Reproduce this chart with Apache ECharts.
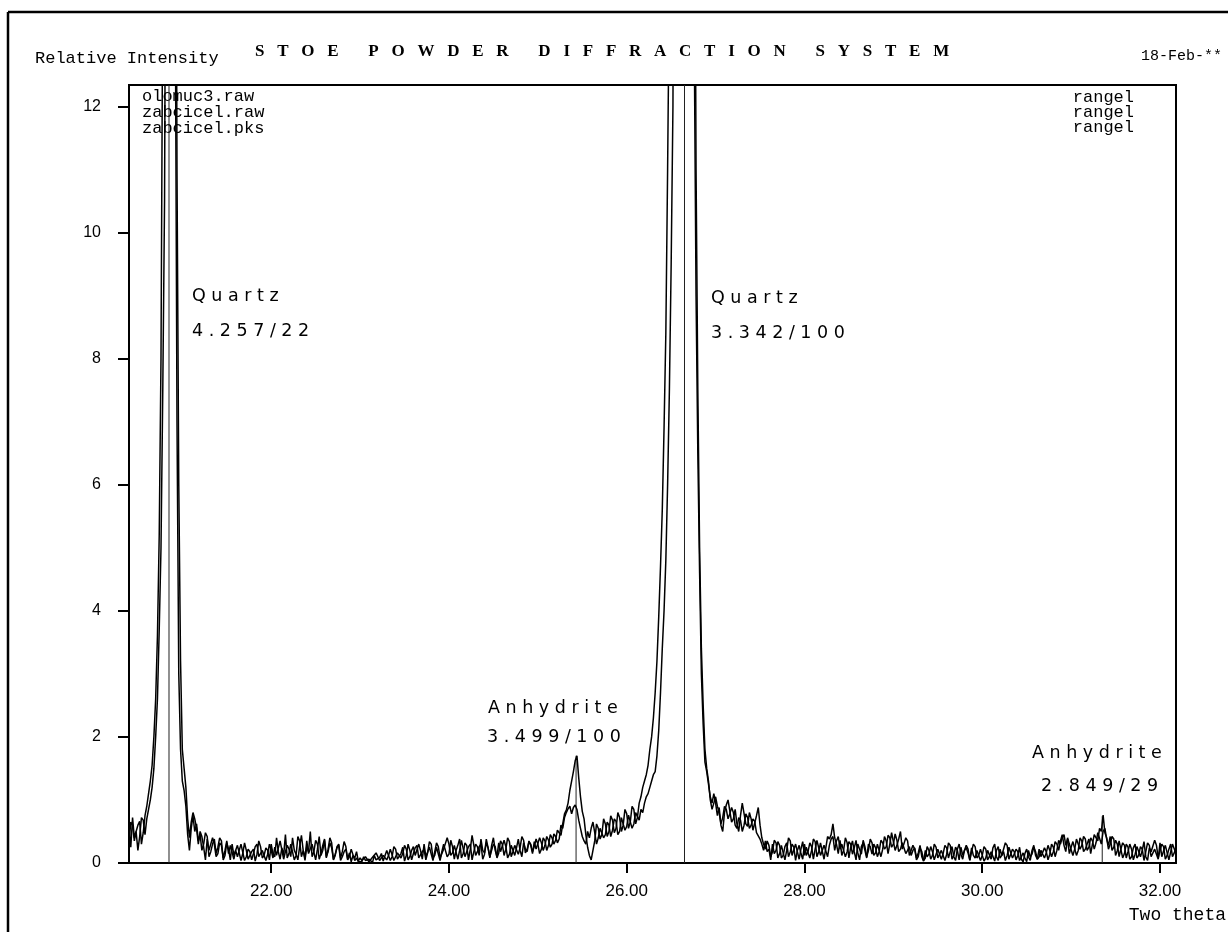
<!DOCTYPE html>
<html>
<head>
<meta charset="utf-8">
<script src="https://cdn.jsdelivr.net/npm/echarts@6/dist/echarts.min.js"></script>
<style>
html,body{margin:0;padding:0;background:#fff;}
#chart{width:1228px;height:932px;}
</style>
</head>
<body>
<div id="chart"></div>
<script>
// sampling grid of the scan (degrees two theta)
const twoThetaStart = 20.40;
const twoThetaStep = 0.02;

// olomuc3.raw  (relative intensity)
const olomuc3 = [
0.55,0.25, 0.72,0.40, 0.38,0.60, 0.66,0.30, 0.48,0.75,
0.90,1.10, 1.30,1.55, 2.00,2.60, 3.60,5.20, 8.00,14.0, 25,33, 40,36, 30,22, 14,7.0, 3.0,1.8, 1.3,1.15, 0.9,0.45,
0.20,0.55, 0.75,0.50, 0.62,0.35, 0.45,0.20, 0.30,0.48, 0.42,0.10, 0.18,0.30, 0.38,0.15, 0.25,0.40, 0.35,0.05, 0.12,0.32,
0.22,0.05, 0.30,0.12, 0.10,0.28, 0.25,0.04, 0.15,0.32, 0.20,0.06, 0.08,0.18, 0.22,0.03, 0.14,0.35, 0.26,0.08,
0.12,0.24, 0.20,0.05, 0.30,0.14, 0.10,0.40, 0.18,0.06, 0.24,0.12, 0.45,0.08, 0.15,0.30, 0.28,0.05, 0.12,0.42,
0.35,0.10, 0.20,0.04, 0.26,0.18, 0.50,0.10, 0.18,0.36, 0.30,0.06, 0.15,0.28, 0.38,0.08, 0.22,0.40, 0.32,0.05,
0.12,0.26, 0.30,0.08, 0.18,0.34, 0.26,0.05, 0.10,0.22, 0.20,0.04, 0.08,0.02,
0.05,0.02, 0.10,0.04, 0.03,0.06, 0.08,0.01, 0.12,0.05, 0.04,0.09, 0.15,0.03, 0.06,0.20,
0.18,0.04, 0.10,0.26, 0.22,0.06, 0.08,0.15, 0.25,0.03, 0.12,0.30, 0.20,0.05, 0.15,0.24, 0.28,0.08, 0.10,0.18,
0.22,0.05, 0.16,0.34, 0.30,0.08, 0.12,0.25, 0.24,0.04, 0.18,0.30, 0.32,0.10, 0.14,0.36, 0.26,0.06, 0.20,0.28,
0.38,0.08, 0.15,0.32, 0.28,0.05, 0.22,0.44, 0.42,0.12, 0.18,0.26, 0.30,0.06, 0.14,0.38, 0.35,0.10, 0.20,0.30,
0.26,0.08, 0.16,0.35, 0.30,0.12, 0.22,0.40, 0.34,0.10, 0.18,0.28, 0.28,0.14, 0.24,0.42, 0.36,0.16, 0.22,0.34,
0.30,0.18, 0.26,0.38,
0.30,0.15, 0.22,0.40, 0.35,0.20, 0.28,0.45, 0.40,0.30, 0.36,0.52, 0.48,0.44, 0.62,0.78, 0.84,0.95, 1.15,1.30, 1.45,1.62, 1.70,1.35, 1.05,0.82, 0.70,0.45, 0.25,0.12, 0.05,0.20,
0.35,0.62, 0.55,0.38, 0.45,0.70, 0.62,0.42, 0.50,0.75, 0.68,0.48, 0.55,0.80, 0.72,0.50, 0.60,0.85, 0.78,0.55, 0.65,0.90, 0.85,0.62, 0.72,0.95,
1.05,1.20, 1.30,1.40, 1.55,1.80, 2.00,2.30, 2.70,3.20, 3.90,4.70, 5.60,6.90, 8.40,11.0, 14.0,20, 30,48, 70,95, 120,132, 140,125, 100,70, 40,22, 13.0,9.0, 6.5,4.6, 3.0,2.2, 1.6,1.45, 1.25,1.05, 0.95,1.10,
0.95,0.75, 0.88,0.60, 0.50,0.80, 0.92,1.00, 0.98,0.65, 0.70,0.85, 0.62,0.50, 0.75,0.95, 0.92,0.62, 0.58,0.80, 0.70,0.52, 0.55,0.75, 0.88,0.60, 0.40,0.30, 0.22,0.35,
0.28,0.10, 0.18,0.36, 0.32,0.08, 0.15,0.28, 0.26,0.05, 0.20,0.40, 0.35,0.12, 0.14,0.30, 0.30,0.06, 0.22,0.34,
0.12,0.25, 0.28,0.08, 0.20,0.38, 0.34,0.10, 0.18,0.32, 0.30,0.06, 0.24,0.42, 0.38,0.45, 0.62,0.40, 0.30,0.15,
0.36,0.12, 0.20,0.40, 0.32,0.08, 0.25,0.35, 0.18,0.05, 0.30,0.22, 0.14,0.36, 0.26,0.10, 0.20,0.38, 0.32,0.12,
0.16,0.30, 0.28,0.10, 0.22,0.42, 0.35,0.15, 0.30,0.48, 0.45,0.20, 0.28,0.38, 0.50,0.22, 0.25,0.40, 0.35,0.12,
0.15,0.28, 0.22,0.05, 0.10,0.24, 0.18,0.04, 0.08,0.26, 0.20,0.06, 0.12,0.30, 0.25,0.08, 0.10,0.20, 0.22,0.04,
0.14,0.32, 0.28,0.06, 0.12,0.25, 0.20,0.05, 0.25,0.12, 0.10,0.28, 0.22,0.04, 0.18,0.30, 0.26,0.08, 0.12,0.22,
0.20,0.03, 0.08,0.20, 0.18,0.06, 0.24,0.30, 0.10,0.04, 0.22,0.12, 0.15,0.32, 0.28,0.06, 0.08,0.22, 0.18,0.05,
0.12,0.25, 0.06,0.02, 0.15,0.22, 0.10,0.04, 0.20,0.28, 0.12,0.06, 0.22,0.10, 0.08,0.24, 0.18,0.05, 0.14,0.30,
0.25,0.10, 0.20,0.36, 0.30,0.40, 0.45,0.28, 0.38,0.15, 0.25,0.34, 0.32,0.12, 0.20,0.40, 0.35,0.18, 0.22,0.30,
0.38,0.15, 0.30,0.45, 0.42,0.35, 0.55,0.50, 0.76,0.48, 0.40,0.22, 0.30,0.42, 0.38,0.12, 0.20,0.35, 0.32,0.08,
0.15,0.30, 0.25,0.06, 0.10,0.24, 0.30,0.08, 0.12,0.26, 0.22,0.04, 0.18,0.32, 0.28,0.10, 0.10,0.22, 0.20,0.06,
0.32,0.10, 0.12,0.28, 0.25,0.05, 0.08,0.30, 0.28,0.15
];

// zabcicel.raw
const zabcicel = [
0.30,0.65, 0.60,0.35, 0.50,0.20, 0.42,0.72, 0.68,0.45,
0.70,0.85, 1.00,1.20, 1.50,2.00, 2.60,3.70, 5.00,7.50, 10.5,18.0, 28.0,35.0, 38.0,30.0, 20.0,11.0, 6.00,3.20, 1.80,1.50, 1.20,0.70,
0.40,0.65, 0.80,0.70, 0.55,0.30, 0.50,0.42, 0.25,0.05, 0.38,0.20, 0.22,0.40, 0.30,0.10, 0.15,0.32, 0.28,0.08, 0.20,0.35,
0.15,0.28, 0.25,0.06, 0.20,0.10, 0.12,0.30, 0.28,0.04, 0.10,0.22, 0.18,0.05, 0.15,0.26, 0.30,0.10, 0.08,0.20,
0.22,0.04, 0.14,0.30, 0.20,0.08, 0.25,0.12, 0.12,0.35, 0.32,0.06, 0.18,0.28, 0.22,0.10, 0.40,0.20, 0.14,0.05,
0.26,0.44, 0.20,0.08, 0.35,0.15, 0.16,0.30, 0.28,0.05, 0.22,0.42, 0.12,0.20, 0.36,0.10, 0.18,0.32, 0.24,0.06,
0.14,0.24, 0.28,0.04, 0.10,0.18, 0.22,0.06, 0.16,0.02, 0.12,0.08, 0.18,0.03,
0.08,0.04, 0.03,0.10, 0.12,0.02, 0.05,0.09, 0.06,0.16, 0.14,0.04, 0.02,0.12, 0.10,0.05,
0.12,0.22, 0.20,0.04, 0.06,0.16, 0.18,0.08, 0.15,0.28, 0.22,0.05, 0.10,0.20, 0.26,0.12, 0.14,0.30, 0.20,0.06,
0.30,0.10, 0.12,0.25, 0.22,0.04, 0.18,0.32, 0.26,0.08, 0.10,0.22, 0.24,0.40, 0.30,0.12, 0.16,0.28, 0.28,0.06,
0.20,0.36, 0.34,0.10, 0.12,0.26, 0.30,0.05, 0.18,0.30, 0.26,0.12, 0.38,0.20, 0.16,0.32, 0.24,0.08, 0.28,0.40,
0.20,0.10, 0.32,0.18, 0.18,0.36, 0.26,0.08, 0.14,0.28, 0.30,0.12, 0.24,0.38, 0.20,0.10, 0.32,0.22, 0.18,0.35,
0.28,0.15, 0.34,0.22,
0.25,0.40, 0.32,0.20, 0.28,0.42, 0.36,0.25, 0.30,0.46, 0.42,0.32, 0.38,0.60, 0.55,0.72, 0.80,0.86, 0.90,0.78, 0.88,0.92, 0.85,0.68, 0.55,0.42, 0.35,0.30, 0.50,0.40, 0.55,0.65,
0.48,0.30, 0.40,0.55, 0.58,0.40, 0.45,0.65, 0.60,0.42, 0.52,0.70, 0.66,0.45, 0.50,0.72, 0.70,0.52, 0.58,0.76, 0.74,0.55, 0.62,0.80, 0.78,0.68,
0.85,0.80, 0.95,1.05, 1.10,1.20, 1.30,1.40, 1.45,1.70, 2.10,2.70, 3.40,4.00, 4.80,6.00, 7.50,9.50, 12.0,20, 35,60, 90,125, 150,135, 110,80, 50,30, 18,11, 7.5,5.0, 3.4,2.5, 1.8,1.5, 1.3,1.0, 0.85,0.95,
1.05,0.90, 0.80,0.62, 0.72,0.90, 0.85,0.70, 0.78,0.88, 0.80,0.60, 0.55,0.72, 0.68,0.50, 0.60,0.78, 0.72,0.55, 0.60,0.70, 0.66,0.48, 0.50,0.38, 0.30,0.20, 0.35,0.18,
0.22,0.05, 0.30,0.15, 0.20,0.34, 0.28,0.08, 0.12,0.26, 0.32,0.10, 0.18,0.30, 0.25,0.04, 0.20,0.28, 0.15,0.06,
0.30,0.12, 0.18,0.32, 0.26,0.06, 0.22,0.36, 0.35,0.12, 0.20,0.28, 0.30,0.10, 0.28,0.38, 0.42,0.20, 0.35,0.42,
0.22,0.30, 0.28,0.10, 0.18,0.34, 0.30,0.14, 0.24,0.36, 0.16,0.05, 0.26,0.32, 0.20,0.08, 0.30,0.26, 0.14,0.30,
0.24,0.10, 0.18,0.36, 0.32,0.22, 0.26,0.44, 0.40,0.25, 0.30,0.46, 0.36,0.18, 0.22,0.32, 0.30,0.15, 0.20,0.26,
0.12,0.20, 0.24,0.08, 0.16,0.28, 0.10,0.03, 0.20,0.10, 0.14,0.26, 0.18,0.05, 0.08,0.22, 0.20,0.06, 0.15,0.28,
0.24,0.08, 0.18,0.26, 0.10,0.04, 0.22,0.30, 0.14,0.06, 0.20,0.24, 0.16,0.05, 0.24,0.12, 0.08,0.20, 0.18,0.04,
0.12,0.26, 0.22,0.05, 0.10,0.18, 0.16,0.03, 0.20,0.26, 0.08,0.12, 0.18,0.04, 0.12,0.25, 0.22,0.08, 0.14,0.22,
0.18,0.04, 0.10,0.16, 0.08,0.02, 0.20,0.10, 0.14,0.25, 0.18,0.06, 0.10,0.20, 0.22,0.08, 0.16,0.28, 0.20,0.10,
0.18,0.34, 0.30,0.20, 0.35,0.45, 0.28,0.18, 0.40,0.30, 0.32,0.12, 0.22,0.38, 0.35,0.22, 0.28,0.42, 0.38,0.20,
0.25,0.40, 0.35,0.22, 0.32,0.48, 0.45,0.30, 0.50,0.55, 0.38,0.28, 0.42,0.20, 0.25,0.36, 0.30,0.10, 0.22,0.32,
0.28,0.08, 0.18,0.30, 0.22,0.05, 0.14,0.26, 0.26,0.10, 0.20,0.34, 0.10,0.04, 0.24,0.18, 0.18,0.36, 0.28,0.08,
0.20,0.30, 0.26,0.06, 0.12,0.22, 0.30,0.10, 0.16,0.24
];

// zabcicel.pks  (peak sticks)
const pksPos = [20.85, 25.43, 26.65, 31.35];
const pksHeight = [40, 1.70, 150, 0.74];

const xTicks = [22, 24, 26, 28, 30, 32];
const yTicks = [0, 2, 4, 6, 8, 10, 12];

const fileNames = ['olomuc3.raw', 'zabcicel.raw', 'zabcicel.pks'];
const rangeNames = ['rangel', 'rangel', 'rangel'];

const peakLabels = [
  {name: 'Q u a r t z', d: '4 . 2 5 7 / 2 2', x: 192, y1: 296, y2: 331},
  {name: 'Q u a r t z', d: '3 . 3 4 2 / 1 0 0', x: 711, y1: 298, y2: 333},
  {name: 'A n h y d r i t e', d: '3 . 4 9 9 / 1 0 0', x: 488, x2: 487, y1: 708, y2: 737},
  {name: 'A n h y d r i t e', d: '2 . 8 4 9 / 2 9', x: 1032, x2: 1041, y1: 753, y2: 786}
];

function toPairs(arr) {
  return arr.map((v, i) => [+(twoThetaStart + i * twoThetaStep).toFixed(2), v]);
}

const chart = echarts.init(document.getElementById('chart'), null, {renderer: 'canvas'});

const mono = '"Liberation Mono", "DejaVu Sans Mono", monospace';
const plot = '"DejaVu Sans", sans-serif';

function txt(x, y, text, font, align) {
  return {
    type: 'text', x: x, y: y, silent: true,
    style: {text: text, font: font, fill: '#000',
      textAlign: align || 'left', textVerticalAlign: 'middle',
      align: align || 'left', verticalAlign: 'middle'}
  };
}

const graphics = [
  {type: 'line', silent: true, shape: {x1: 8, y1: 12, x2: 8, y2: 932}, style: {stroke: '#000', lineWidth: 2.5}},
  {type: 'line', silent: true, shape: {x1: 8, y1: 12, x2: 1228, y2: 12}, style: {stroke: '#000', lineWidth: 2.5}},
  txt(35, 58, 'Relative Intensity', '17px ' + mono),
  txt(255, 52, 'S   T   O   E       P   O   W   D   E   R       D   I   F   F   R   A   C   T   I   O   N       S   Y   S   T   E   M', 'bold 17px "Liberation Serif", serif'),
  txt(1222, 56, '18-Feb-**', '15px ' + mono, 'right'),
  txt(1226, 915, 'Two theta', '18px ' + mono, 'right')
];
fileNames.forEach((t, i) => graphics.push(txt(142, 96 + i * 16, t, '17px ' + mono)));
rangeNames.forEach((t, i) => graphics.push(txt(1134, 97 + i * 15, t, '17px ' + mono, 'right')));
peakLabels.forEach(p => {
  graphics.push(txt(p.x, p.y1, p.name, '17.5px ' + plot));
  graphics.push(txt(p.x2 || p.x, p.y2, p.d, '17.5px ' + plot));
});

chart.setOption({
  animation: false,
  backgroundColor: '#fff',
  grid: {left: 129, right: 52, top: 85, bottom: 69, show: true, borderColor: '#000', borderWidth: 2, backgroundColor: 'transparent'},
  xAxis: {
    type: 'value', min: 20.40, max: 32.18,
    axisLine: {show: true, onZero: false, lineStyle: {color: '#000', width: 2}},
    axisTick: {show: true, length: 10, lineStyle: {color: '#000', width: 2}, customValues: xTicks},
    axisLabel: {customValues: xTicks, formatter: v => Number(v).toFixed(2), color: '#000', fontFamily: '"Liberation Sans", Arial, sans-serif', fontSize: 17, margin: 20},
    splitLine: {show: false}
  },
  yAxis: {
    type: 'value', min: 0, max: 12.34,
    axisLine: {show: true, lineStyle: {color: '#000', width: 2}},
    axisTick: {show: true, length: 11, lineStyle: {color: '#000', width: 2}, customValues: yTicks},
    axisLabel: {customValues: yTicks, formatter: v => String(v), color: '#000', fontFamily: '"Liberation Sans", Arial, sans-serif', fontSize: 16, margin: 28},
    splitLine: {show: false}
  },
  graphic: graphics,
  series: [
    {
      name: 'zabcicel.pks', type: 'bar', barWidth: 1, clip: true, silent: true,
      itemStyle: {color: '#222'},
      data: pksPos.map((p, i) => [p, pksHeight[i]]),
      z: 1
    },
    {
      name: 'olomuc3.raw', type: 'line', data: toPairs(olomuc3), showSymbol: false, symbol: 'none',
      clip: true, silent: true, lineStyle: {color: '#000', width: 1.5}, z: 3
    },
    {
      name: 'zabcicel.raw', type: 'line', data: toPairs(zabcicel), showSymbol: false, symbol: 'none',
      clip: true, silent: true, lineStyle: {color: '#000', width: 1.5}, z: 3
    }
  ]
});
</script>
</body>
</html>
